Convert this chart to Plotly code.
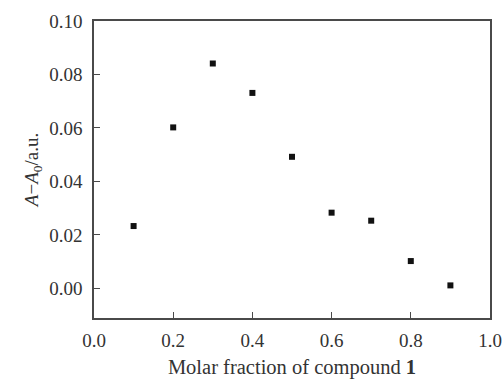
import plotly.graph_objects as go

x_vals = [0.1, 0.2, 0.3, 0.4, 0.5, 0.6, 0.7, 0.8, 0.9]
y_vals = [0.0233, 0.0602, 0.0841, 0.0731, 0.0492, 0.0283, 0.0253, 0.0102, 0.0011]
x_ticks = [0.0, 0.2, 0.4, 0.6, 0.8, 1.0]
x_ticklabels = ["0.0", "0.2", "0.4", "0.6", "0.8", "1.0"]
y_ticks = [0.00, 0.02, 0.04, 0.06, 0.08, 0.10]
y_ticklabels = ["0.00", "0.02", "0.04", "0.06", "0.08", "0.10"]

font_family = "Liberation Serif, Times New Roman, serif"
axis_color = "#4a4a4a"

fig = go.Figure()
fig.add_trace(go.Scatter(
    x=x_vals, y=y_vals, mode="markers",
    marker=dict(symbol="square", size=6, color="#111111"),
    showlegend=False,
))

fig.update_layout(
    width=503, height=379,
    margin=dict(l=94, r=13, t=21, b=61),
    paper_bgcolor="white", plot_bgcolor="white",
    font=dict(family=font_family, size=19, color="#333333"),
    xaxis=dict(
        range=[0, 1.0], tickvals=x_ticks, ticktext=x_ticklabels,
        ticks="inside", ticklen=6, tickwidth=1.3, tickcolor=axis_color,
        showline=True, linecolor=axis_color, linewidth=1.5, mirror=True,
        showgrid=False, zeroline=False, ticklabelstandoff=4, automargin=False,
        tickfont=dict(size=19),
        title=dict(text="Molar fraction of compound <b>1</b>", font=dict(size=20.5), standoff=10),
    ),
    yaxis=dict(
        range=[-0.0111, 0.10], tickvals=y_ticks, ticktext=y_ticklabels,
        ticks="inside", ticklen=6, tickwidth=1.3, tickcolor=axis_color,
        showline=True, linecolor=axis_color, linewidth=1.5, mirror=True,
        showgrid=False, zeroline=False, ticklabelstandoff=6, automargin=False,
        tickfont=dict(size=19),
        title=dict(text="<i>A</i>−<i>A</i><sub>0</sub>/a.u.", font=dict(size=19), standoff=6),
    ),
)

fig.write_html("out.html")
